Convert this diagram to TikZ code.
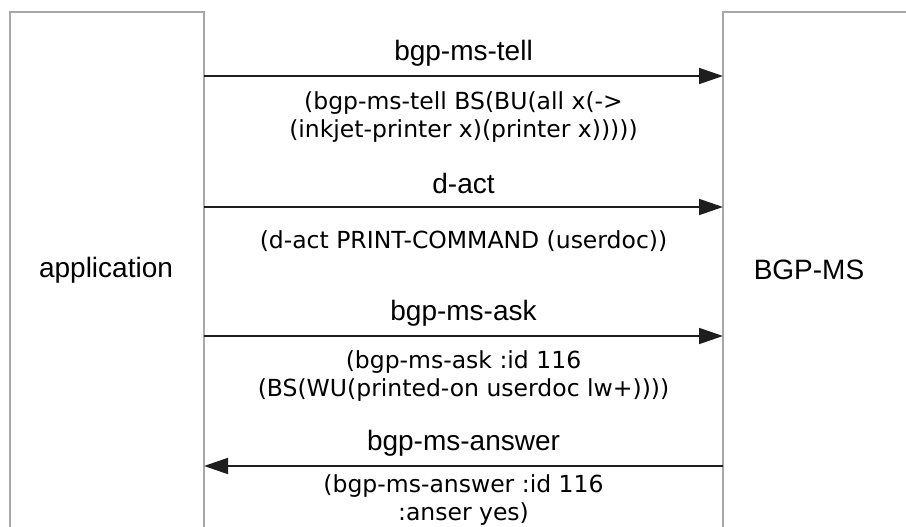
\documentclass[tikz,border=0pt]{standalone}
\usepackage{fontspec}
\setmainfont{Liberation Sans}
\newfontfamily\msgfont{DejaVu Sans}
\usetikzlibrary{arrows.meta}

\definecolor{boxgray}{HTML}{A8A8A8}
\definecolor{linedark}{HTML}{1E1E1E}

\tikzset{
  x=1pt, y=1pt,
  party/.style={draw=boxgray, line width=1.5pt, anchor=north west,
                inner sep=0pt, outer sep=0pt},
  partyname/.style={font=\fontsize{28}{32}\selectfont, inner sep=0pt},
  msg/.style={draw=linedark, line width=1.8pt,
              -{Triangle[length=24pt,width=16pt]}},
  msglabel/.style={font=\fontsize{28}{32}\selectfont, inner sep=0pt},
  msgbody/.style={font=\msgfont\fontsize{23.5}{28}\selectfont,
                  align=center, inner sep=0pt}
}

\begin{document}
\begin{tikzpicture}
  \useasboundingbox (0,0) rectangle (906,-527);

  % the two communicating parties (they run past the lower and right edges)
  \node[party, minimum width=194pt, minimum height=560pt] (app) at (10,-12) {};
  \node[party, minimum width=200pt, minimum height=560pt] (bgp) at (723,-12) {};

  \node[partyname] (appname) at (106,-270) {application};
  \node[partyname] (bgpname) at (809,-270) {BGP-MS};

  % anchor points of the four messages on the parties' borders
  \coordinate (t1) at (app.east |- 0,-76);
  \coordinate (t2) at (bgp.west |- 0,-76);
  \coordinate (d1) at (app.east |- 0,-207);
  \coordinate (d2) at (bgp.west |- 0,-207);
  \coordinate (q1) at (app.east |- 0,-336);
  \coordinate (q2) at (bgp.west |- 0,-336);
  \coordinate (r1) at (app.east |- 0,-466);
  \coordinate (r2) at (bgp.west |- 0,-466);

  \draw[msg] (t1) -- (t2);
  \draw[msg] (d1) -- (d2);
  \draw[msg] (q1) -- (q2);
  \draw[msg] (r2) -- (r1);

  % message names
  \node[msglabel] (tlab) at (463.5,-53) {bgp-ms-tell};
  \node[msglabel] (dlab) at (463.5,-183) {d-act};
  \node[msglabel] (qlab) at (463.5,-313) {bgp-ms-ask};
  \node[msglabel] (rlab) at (463.5,-443) {bgp-ms-answer};

  % message contents
  \node[msgbody] (tbody) at (463.5,-117) {(bgp-ms-tell BS(BU(all x(->\\(inkjet-printer x)(printer x)))))};
  \node[msgbody] (dbody) at (463.5,-241) {(d-act PRINT-COMMAND (userdoc))};
  \node[msgbody] (qbody) at (463.5,-376) {(bgp-ms-ask :id 116\\(BS(WU(printed-on userdoc lw+))))};
  \node[msgbody] (rbody) at (463.5,-500) {(bgp-ms-answer :id 116\\:anser yes)};
\end{tikzpicture}
\end{document}
